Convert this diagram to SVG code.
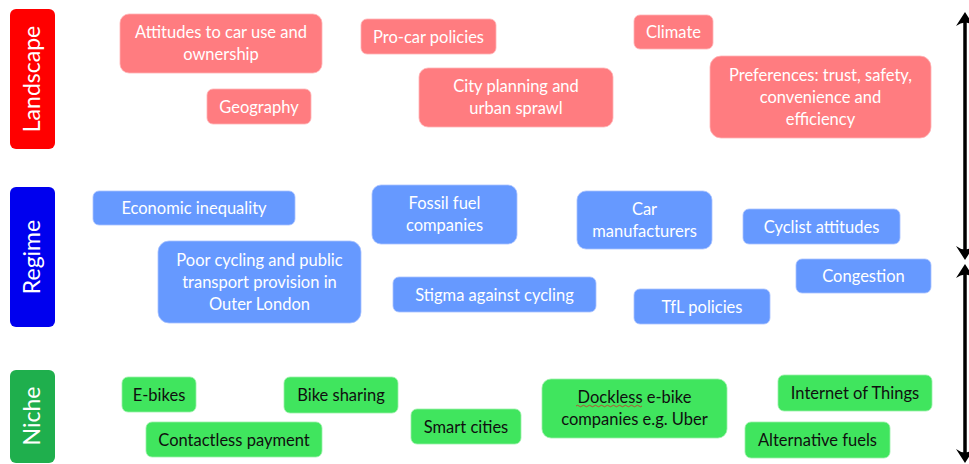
<svg xmlns="http://www.w3.org/2000/svg" width="969" height="464" viewBox="0 0 969 464">
  <style>
    text { font-family: Lato, "Open Sans", "Liberation Sans", sans-serif; font-size: 16.5px; text-anchor: middle; }
    .side text { font-size: 23px; fill: #fff; }
    .land rect { fill: #ff7c80; stroke: #ffb3b5; stroke-width: 0.8; }
    .land text { fill: #fff; }
    .reg rect { fill: #6699ff; stroke: #a8c2ff; stroke-width: 0.8; }
    .reg text { fill: #fff; }
    .niche rect { fill: #40e55e; stroke: #9af0a8; stroke-width: 0.8; }
    .niche text { fill: #0f0f0f; }
    .shaft { stroke: #000; stroke-width: 3.5; fill: none; }
    .head { fill: #000; }
  </style>

  <!-- level labels on the left -->
  <g id="level-landscape" class="side">
    <rect x="10" y="9" width="45" height="140" rx="6" fill="#ff0000"/>
    <text transform="translate(40 79) rotate(-90)">Landscape</text>
  </g>
  <g id="level-regime" class="side">
    <rect x="10" y="187" width="45" height="140" rx="6" fill="#0000ee"/>
    <text transform="translate(40 257) rotate(-90)">Regime</text>
  </g>
  <g id="level-niche" class="side">
    <rect x="10" y="370" width="45" height="93" rx="6" fill="#1faf4d"/>
    <text transform="translate(40 416) rotate(-90)">Niche</text>
  </g>

  <!-- landscape factors -->
  <g id="attitudes" class="land">
    <rect x="120" y="14" width="202" height="59" rx="9"/>
    <text x="221" y="38">Attitudes to car use and</text>
    <text x="221" y="60">ownership</text>
  </g>
  <g id="pro-car" class="land">
    <rect x="361" y="19" width="135" height="35" rx="6"/>
    <text x="428.5" y="42.5">Pro-car policies</text>
  </g>
  <g id="climate" class="land">
    <rect x="634" y="15" width="79" height="34" rx="6"/>
    <text x="673.5" y="38">Climate</text>
  </g>
  <g id="geography" class="land">
    <rect x="207" y="89" width="104" height="35" rx="6"/>
    <text x="259" y="112.5">Geography</text>
  </g>
  <g id="city-planning" class="land">
    <rect x="419" y="68" width="194" height="59" rx="9"/>
    <text x="516" y="92">City planning and</text>
    <text x="516" y="114">urban sprawl</text>
  </g>
  <g id="preferences" class="land">
    <rect x="710" y="56" width="221" height="82" rx="11"/>
    <text x="820.5" y="81">Preferences: trust, safety,</text>
    <text x="820.5" y="103">convenience and</text>
    <text x="820.5" y="125">efficiency</text>
  </g>

  <!-- regime factors -->
  <g id="economic-inequality" class="reg">
    <rect x="93" y="191" width="202" height="34" rx="6"/>
    <text x="194" y="214">Economic inequality</text>
  </g>
  <g id="fossil-fuel" class="reg">
    <rect x="372" y="185" width="145" height="59" rx="9"/>
    <text x="444.5" y="209">Fossil fuel</text>
    <text x="444.5" y="231">companies</text>
  </g>
  <g id="car-manufacturers" class="reg">
    <rect x="577" y="191" width="135" height="58" rx="9"/>
    <text x="644.5" y="215">Car</text>
    <text x="644.5" y="237">manufacturers</text>
  </g>
  <g id="cyclist-attitudes" class="reg">
    <rect x="743" y="209" width="157" height="35" rx="6"/>
    <text x="821.5" y="232.5">Cyclist attitudes</text>
  </g>
  <g id="poor-provision" class="reg">
    <rect x="158" y="241" width="203" height="82" rx="11"/>
    <text x="259.5" y="266">Poor cycling and public</text>
    <text x="259.5" y="288">transport provision in</text>
    <text x="259.5" y="310">Outer London</text>
  </g>
  <g id="stigma" class="reg">
    <rect x="393" y="277" width="203" height="35" rx="6"/>
    <text x="494.5" y="300.5">Stigma against cycling</text>
  </g>
  <g id="tfl-policies" class="reg">
    <rect x="634" y="289" width="136" height="35" rx="6"/>
    <text x="702" y="312.5">TfL policies</text>
  </g>
  <g id="congestion" class="reg">
    <rect x="796" y="259" width="135" height="34" rx="6"/>
    <text x="863.5" y="282">Congestion</text>
  </g>

  <!-- niche innovations -->
  <g id="e-bikes" class="niche">
    <rect x="122" y="377" width="74" height="35" rx="6"/>
    <text x="159" y="400.5">E-bikes</text>
  </g>
  <g id="bike-sharing" class="niche">
    <rect x="284" y="377" width="114" height="36" rx="6"/>
    <text x="341" y="401">Bike sharing</text>
  </g>
  <g id="contactless" class="niche">
    <rect x="146" y="422" width="176" height="35" rx="6"/>
    <text x="234" y="445.5">Contactless payment</text>
  </g>
  <g id="smart-cities" class="niche">
    <rect x="411" y="409" width="110" height="35" rx="6"/>
    <text x="466" y="432.5">Smart cities</text>
  </g>
  <g id="dockless" class="niche">
    <rect x="542" y="379" width="185" height="59" rx="9"/>
    <text x="634.5" y="403">Dockless e-bike</text>
    <text x="634.5" y="425">companies e.g. Uber</text>
    <path d="M576 406 q1.5 -1.5 3 0 t3 0 t3 0 t3 0 t3 0 t3 0 t3 0 t3 0 t3 0 t3 0 t3 0 t3 0 t3 0 t3 0 t3 0 t3 0 t3 0 t3 0 t3 0 t3 0 t3 0 t3 0" fill="none" stroke="#d42a2a" stroke-width="0.8"/>
  </g>
  <g id="iot" class="niche">
    <rect x="778" y="375" width="154" height="36" rx="6"/>
    <text x="855" y="398.5">Internet of Things</text>
  </g>
  <g id="alt-fuels" class="niche">
    <rect x="745" y="422" width="145" height="36" rx="6"/>
    <text x="817.5" y="445.5">Alternative fuels</text>
  </g>

  <!-- double-headed arrows along the right edge -->
  <g id="connectors">
    <path class="shaft" d="M965 20 V252"/>
    <path class="head" d="M965 12 L956 26 Q960.5 22.5 965 22.5 Q969.5 22.5 974 26 Z"/>
    <path class="head" d="M965 260 L956 246 Q960.5 249.5 965 249.5 Q969.5 249.5 974 246 Z"/>
    <path class="shaft" d="M965 272 V456"/>
    <path class="head" d="M965 264 L956 278 Q960.5 274.5 965 274.5 Q969.5 274.5 974 278 Z"/>
    <path class="head" d="M965 463 L956 449 Q960.5 452.5 965 452.5 Q969.5 452.5 974 449 Z"/>
  </g>
</svg>
